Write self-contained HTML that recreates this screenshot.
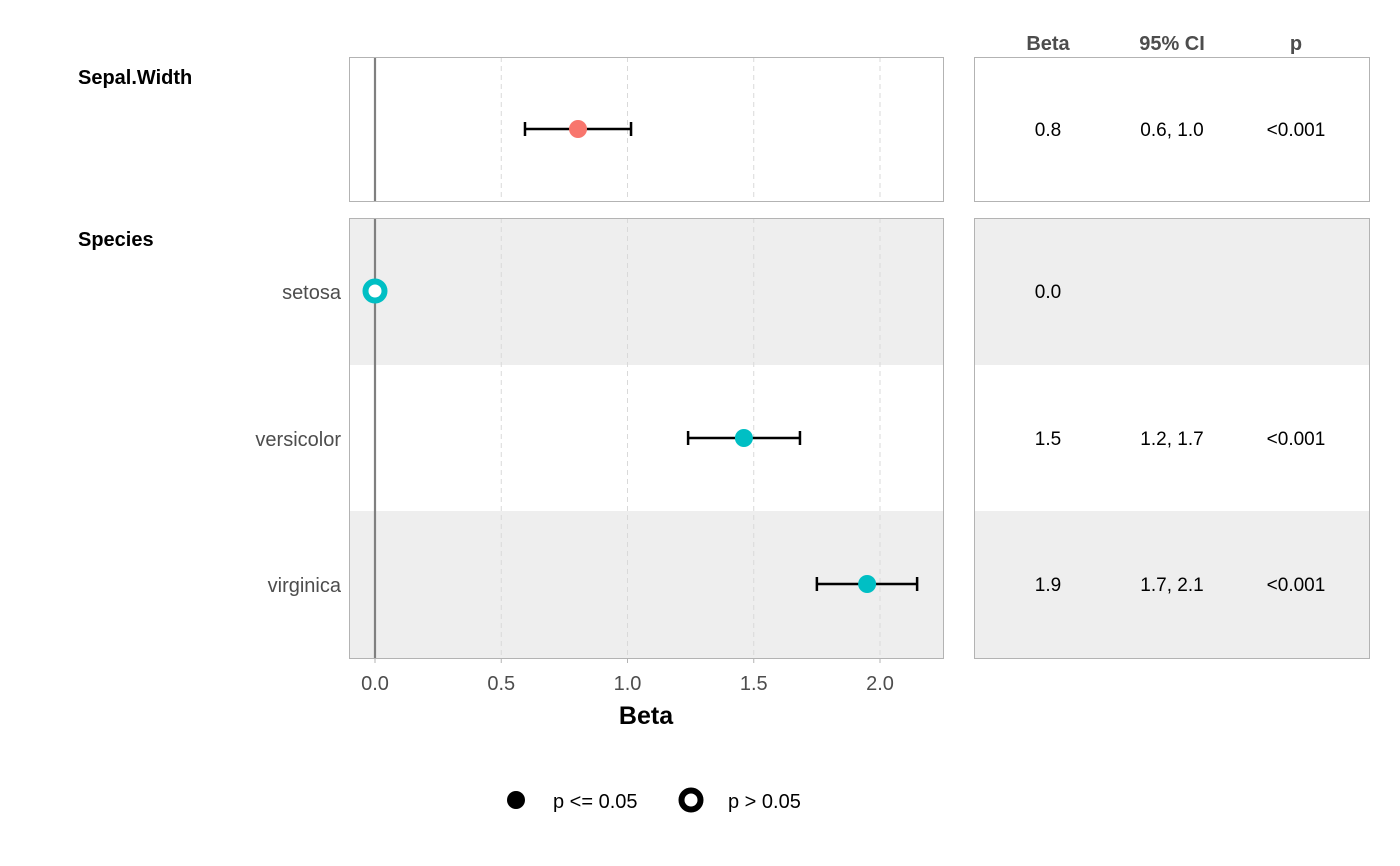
<!DOCTYPE html>
<html><head><meta charset="utf-8">
<style>
html,body{margin:0;padding:0;background:#fff;}
svg{display:block;font-family:"Liberation Sans","DejaVu Sans",sans-serif;}
</style></head>
<body>
<svg id="chart" width="1400" height="866" viewBox="0 0 1400 866">
<g id="plot"></g>
</svg>
<script>
const terms = ["Sepal.Width","setosa","versicolor","virginica"];
const betas = [0.804, 0.0, 1.461, 1.949];
const ciLow = [0.594, null, 1.240, 1.750];
const ciHigh = [1.014, null, 1.683, 2.147];
const sigs = [true, false, true, true];
const betaLabels = ["0.8","0.0","1.5","1.9"];
const ciLabels = ["0.6, 1.0","","1.2, 1.7","1.7, 2.1"];
const pLabels = ["<0.001","","<0.001","<0.001"];
const xTicks = [0,0.5,1.0,1.5,2.0];
const xTickLabels = ["0.0","0.5","1.0","1.5","2.0"];

const NS="http://www.w3.org/2000/svg";
const g=document.getElementById('plot');
function mk(t,a,p){const e=document.createElementNS(NS,t);for(const k in a)e.setAttribute(k,a[k]);(p||g).appendChild(e);return e;}
const x=v=>375+v*252.5;
const rowY=[129,291,438,584];
const colors=["#F8766D","#00BFC4","#00BFC4","#00BFC4"];

let e;
e=mk('rect',{x:349,y:218,width:594,height:147,fill:'#eeeeee'});
e=mk('rect',{x:349,y:511,width:594,height:147,fill:'#eeeeee'});
e=mk('rect',{x:974,y:218,width:395,height:147,fill:'#eeeeee'});
e=mk('rect',{x:974,y:511,width:395,height:147,fill:'#eeeeee'});

xTicks.forEach((t,i)=>{
  if(t===0)return;
  [[57,201],[218,658]].forEach(r=>{
    e=mk('line',{x1:x(t),x2:x(t),y1:r[0],y2:r[1],stroke:'#d9d9d9','stroke-dasharray':'5,4','stroke-width':1});
    
  });
});
[[57,201],[218,658]].forEach(r=>{
  e=mk('line',{x1:x(0),x2:x(0),y1:r[0],y2:r[1],stroke:'#808080','stroke-width':2.2});
  
});
[[349,57,594,144],[349,218,594,440],[974,57,395,144],[974,218,395,440]].forEach(b=>{
  e=mk('rect',{x:b[0]+0.5,y:b[1]+0.5,width:b[2],height:b[3],fill:'none',stroke:'#b3b3b3','stroke-width':1});
  
});
xTicks.forEach((t,i)=>{
  e=mk('line',{x1:x(t),x2:x(t),y1:658,y2:663,stroke:'#b3b3b3'});
  
  e=mk('text',{x:x(t),y:690,'text-anchor':'middle','font-size':20,fill:'#4d4d4d'});e.textContent=xTickLabels[i];
  
});
e=mk('text',{x:646,y:724,'text-anchor':'middle','font-size':25,'font-weight':'bold',fill:'#000'});e.textContent='Beta';


e=mk('text',{x:78,y:84,'font-size':20,'font-weight':'bold'});e.textContent='Sepal.Width';

e=mk('text',{x:78,y:246,'font-size':20,'font-weight':'bold'});e.textContent='Species';

for(let i=1;i<terms.length;i++){
  e=mk('text',{x:341,y:rowY[i]+8,'text-anchor':'end','font-size':20,fill:'#4d4d4d'});e.textContent=terms[i];
  
}
terms.forEach((t,i)=>{
  const y=rowY[i];
  if(ciLow[i]!==null){
    e=mk('line',{x1:x(ciLow[i]),x2:x(ciHigh[i]),y1:y,y2:y,stroke:'#000','stroke-width':2.5});
    
    [ciLow[i],ciHigh[i]].forEach(v=>{
      e=mk('line',{x1:x(v),x2:x(v),y1:y-7,y2:y+7,stroke:'#000','stroke-width':2.5});
      
    });
  }
  if(sigs[i]) e=mk('circle',{cx:x(betas[i]),cy:y,r:9,fill:colors[i]});
  else e=mk('circle',{cx:x(betas[i]),cy:y,r:9.5,fill:'#fff',stroke:colors[i],'stroke-width':6});
  
  [[1048,betaLabels[i]],[1172,ciLabels[i]],[1296,pLabels[i]]].forEach(c=>{
    e=mk('text',{x:c[0],y:y+7,'text-anchor':'middle','font-size':19,fill:'#000'});e.textContent=c[1];
    
  });
});
[[1048,'Beta'],[1172,'95% CI'],[1296,'p']].forEach(c=>{
  e=mk('text',{x:c[0],y:50,'text-anchor':'middle','font-size':20,'font-weight':'bold',fill:'#4d4d4d'});e.textContent=c[1];
  
});
e=mk('circle',{cx:516,cy:800,r:9,fill:'#000'});
e=mk('text',{x:553,y:808,'font-size':20});e.textContent='p <= 0.05';
e=mk('circle',{cx:691,cy:800,r:9.5,fill:'#fff',stroke:'#000','stroke-width':6});
e=mk('text',{x:728,y:808,'font-size':20});e.textContent='p > 0.05';
</script>
</body></html>
